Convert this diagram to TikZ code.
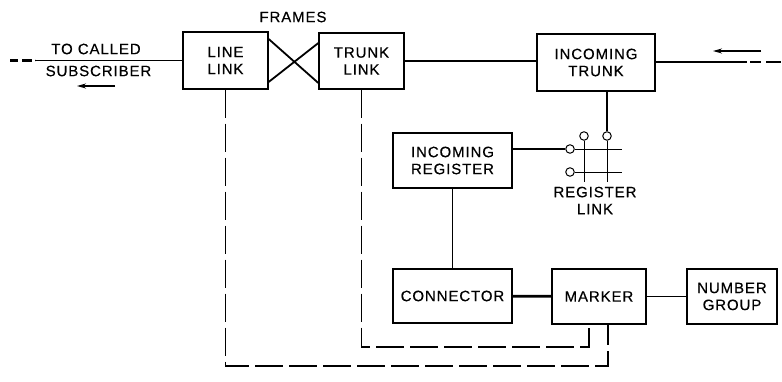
\documentclass[tikz,border=0pt]{standalone}
\usepackage{fontspec}
\setmainfont[LetterSpace=6,FakeBold=0.4]{Liberation Sans}
\usetikzlibrary{
  positioning,
  arrows.meta
}
\tikzstyle{arrow}   = [line width=1.3pt,-{Stealth[length=9pt,width=5pt]}]
\tikzstyle{signal}  = [line width=1.8pt]
\tikzstyle{control} = [line width=1.2pt,dash pattern=on 28pt off 6pt]

\begin{document}
\begin{tikzpicture}[x=1pt,y=-1pt,
blocknode/.style={rectangle, draw, line width=1.3pt, align=center, inner sep=0pt, font=\fontsize{15}{17}\selectfont},
labelnode/.style={align=center, inner sep=0pt, font=\fontsize{15}{17}\selectfont},
contactnode/.style={circle, draw, line width=1pt, minimum size=8.5pt, inner sep=0pt},
]
\useasboundingbox (0,0) rectangle (782,382);
%Nodes
\node[blocknode, minimum width=85pt, minimum height=57pt]  (linelink)  at (225.5,60.5) {LINE\\LINK};
\node[blocknode, minimum width=85pt, minimum height=56pt]  (trunklink) at (361.5,61)   {TRUNK\\LINK};
\node[blocknode, minimum width=118pt, minimum height=57pt] (intrunk)   at (596,62.5)   {INCOMING\\TRUNK};
\node[blocknode, minimum width=119pt, minimum height=55pt] (inreg)     at (452.5,160.5) {INCOMING\\REGISTER};
\node[blocknode, minimum width=119pt, minimum height=54pt] (connector) at (452.5,296)  {CONNECTOR};
\node[blocknode, minimum width=94pt, minimum height=55pt]  (marker)    at (599,296.5)  {MARKER};
\node[blocknode, minimum width=90pt, minimum height=55pt]  (numgroup)  at (732,296.5)  {NUMBER\\GROUP};

\node[labelnode] (tocalled)   at (96,49)    {TO CALLED};
\node[labelnode] (subscriber) at (98.5,71)  {SUBSCRIBER};
\node[labelnode] (frames)     at (293,17)   {FRAMES};
\node[labelnode] (reglink)    at (595,200.5) {REGISTER\\LINK};

\node[contactnode] (rowa) at (570,149) {};
\node[contactnode] (rowb) at (570,172) {};
\node[contactnode] (cola) at (584,136) {};
\node[contactnode] (colb) at (607,136) {};

%Coordinates
\coordinate (leftsolid)  at (35,60.5);
\coordinate (leftend)    at (10,60.5);
\coordinate (rightsolid) at (747,62);
\coordinate (rightgap)   at (750,62);
\coordinate (rightend)   at (781,62);
\coordinate (outtail)    at (115,86);
\coordinate (outhead)    at (77,86);
\coordinate (intail)     at (761,51);
\coordinate (inhead)     at (713,51);
\coordinate (rowaend)    at (622,149);
\coordinate (rowbend)    at (622,172);
\coordinate (colaend)    at (584,182);
\coordinate (colbend)    at (607,182);
\coordinate (outerbase)  at (608,366);
\coordinate (innerbase)  at (589,347);

%Lines
\draw[signal] (linelink.west) -- (leftsolid);
\draw[signal, line width=2.4pt, dash pattern=on 8pt off 4pt on 10pt off 3pt] (leftend) -- (leftsolid);
\draw[arrow] (outtail) -- (outhead);
\draw[signal] ([yshift=21.5pt]linelink.east) -- ([yshift=-22pt]trunklink.west);
\draw[signal] ([yshift=-21.5pt]linelink.east) -- ([yshift=18pt]trunklink.west);
\draw[signal] (trunklink.east) -- (trunklink.east -| intrunk.west);
\draw[signal] (intrunk.east |- rightsolid) -- (rightsolid);
\draw[signal, line width=2.4pt, dash pattern=on 11pt off 5pt on 16pt] (rightgap) -- (rightend);
\draw[arrow] (intail) -- (inhead);
\draw[signal, line width=2.2pt] (intrunk.south -| colb) -- (colb.north);
\draw[signal, line width=2.2pt] (inreg.east |- rowa) -- (rowa.west);
\draw[line width=0.9pt] (rowa) -- (rowaend);
\draw[line width=0.9pt] (rowb) -- (rowbend);
\draw[line width=0.9pt] (cola) -- (colaend);
\draw[line width=0.9pt] (colb) -- (colbend);
\draw[signal] (inreg.south) -- (connector.north);
\draw[line width=2.8pt] (connector) -- (marker);
\draw[line width=1.3pt] (marker) -- (numgroup);
\draw[control] (linelink.south) |- (outerbase) -- (outerbase |- marker.south);
\draw[control] (trunklink.south) |- (innerbase) -- (innerbase |- marker.south);
\end{tikzpicture}
\end{document}
